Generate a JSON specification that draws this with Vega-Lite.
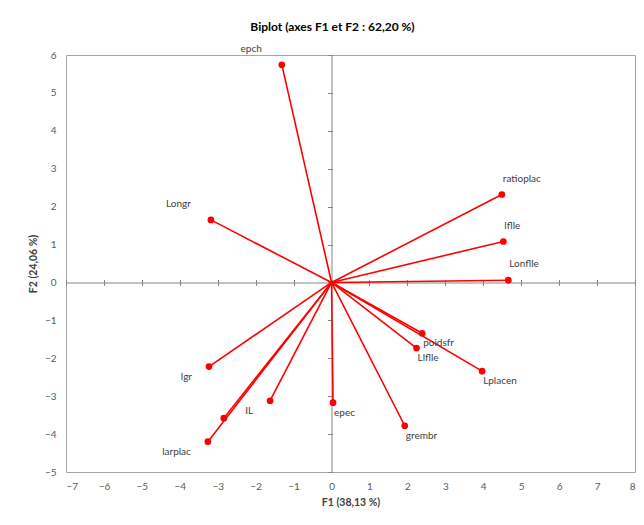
{
  "$schema": "https://vega.github.io/schema/vega-lite/v6.json",
  "autosize": "none",
  "width": 569,
  "height": 417,
  "padding": {"left": 66, "top": 55, "right": 9, "bottom": 53},
  "background": "white",
  "title": {"text": "Biplot (axes F1 et F2 : 62,20 %)", "fontSize": 12, "font": "Lato", "fontWeight": "bold", "color": "#000000", "offset": 10, "dx": -18},
  "config": {
    "font": "Lato",
    "view": {"stroke": "#A6A6A6", "strokeWidth": 1},
    "axis": {"grid": false, "labelFont": "Lato", "titleFont": "Lato"}
  },
  "data": {"values": [
    {"label": "epch", "x": -1.31, "y": 5.74},
    {"label": "Longr", "x": -3.18, "y": 1.65},
    {"label": "ratioplac", "x": 4.49, "y": 2.32},
    {"label": "lflle", "x": 4.53, "y": 1.08},
    {"label": "Lonflle", "x": 4.66, "y": 0.06},
    {"label": "lgr", "x": -3.23, "y": -2.22},
    {"label": "IL", "x": -1.62, "y": -3.12},
    {"label": "", "x": -2.84, "y": -3.58},
    {"label": "larplac", "x": -3.26, "y": -4.2},
    {"label": "epec", "x": 0.04, "y": -3.17},
    {"label": "poidsfr", "x": 2.39, "y": -1.34},
    {"label": "Llflle", "x": 2.24, "y": -1.73},
    {"label": "Lplacen", "x": 3.97, "y": -2.34},
    {"label": "grembr", "x": 1.93, "y": -3.78}
  ]},
  "resolve": {"axis": {"x": "independent", "y": "independent"}},
  "layer": [
    {
      "mark": {"type": "rule", "color": "#FF0000", "strokeWidth": 1.6},
      "encoding": {
        "x": {"field": "x", "type": "quantitative", "scale": {"domain": [-7, 8], "nice": false, "zero": false},
          "axis": {"orient": "bottom", "values": [-7,-6,-5,-4,-3,-2,-1,0,1,2,3,4,5,6,7,8], "domain": false, "ticks": false, "labelPadding": 9, "labelFontSize": 10, "labelColor": "#595959", "title": "F1 (38,13 %)", "titleFontSize": 10.5, "titleFontWeight": "bold", "titleColor": "#404040", "titlePadding": 6}},
        "y": {"field": "y", "type": "quantitative", "scale": {"domain": [-5, 6], "nice": false, "zero": false},
          "axis": {"orient": "left", "values": [-5,-4,-3,-2,-1,0,1,2,3,4,5,6], "domain": false, "ticks": false, "labelPadding": 10, "labelFontSize": 10, "labelColor": "#595959", "title": "F2 (24,06 %)", "titleFontSize": 10.5, "titleFontWeight": "bold", "titleColor": "#404040", "titlePadding": 6}},
        "x2": {"datum": 0},
        "y2": {"datum": 0}
      }
    },
    {
      "mark": {"type": "circle", "color": "#FF0000", "opacity": 1, "size": 45},
      "encoding": {
        "x": {"field": "x", "type": "quantitative",
          "axis": {"orient": "bottom", "offset": -189.5, "values": [-7,-6,-5,-4,-3,-2,-1,0,1,2,3,4,5,6,7,8], "labels": false, "title": null, "domain": true, "domainColor": "#868686", "ticks": true, "tickSize": 3, "tickColor": "#868686"}},
        "y": {"field": "y", "type": "quantitative",
          "axis": {"orient": "left", "offset": -265.5, "values": [-5,-4,-3,-2,-1,0,1,2,3,4,5,6], "labels": false, "title": null, "domain": true, "domainColor": "#868686", "ticks": true, "tickSize": 4, "tickColor": "#868686"}}
      }
    },
    {
      "transform": [{"filter": "datum.x >= 0 && datum.y >= 0"}],
      "mark": {"type": "text", "align": "left", "baseline": "middle", "dx": 1, "dy": -16, "fontSize": 10, "color": "#404040"},
      "encoding": {
        "x": {"field": "x", "type": "quantitative",
          "axis": {"orient": "top", "offset": -227.5, "values": [-7,-6,-5,-4,-3,-2,-1,0,1,2,3,4,5,6,7,8], "labels": false, "title": null, "domain": false, "ticks": true, "tickSize": 3, "tickColor": "#868686"}},
        "y": {"field": "y", "type": "quantitative",
          "axis": {"orient": "right", "offset": -303.5, "values": [-5,-4,-3,-2,-1,0,1,2,3,4,5,6], "labels": false, "title": null, "domain": false, "ticks": true, "tickSize": 1, "tickColor": "#868686"}},
        "text": {"field": "label"}
      }
    },
    {
      "transform": [{"filter": "datum.x >= 0 && datum.y < 0"}],
      "mark": {"type": "text", "align": "left", "baseline": "middle", "dx": 1, "dy": 10, "fontSize": 10, "color": "#404040"},
      "encoding": {
        "x": {"field": "x", "type": "quantitative", "axis": null},
        "y": {"field": "y", "type": "quantitative", "axis": null},
        "text": {"field": "label"}
      }
    },
    {
      "transform": [{"filter": "datum.x < 0 && datum.y >= 0"}],
      "mark": {"type": "text", "align": "right", "baseline": "middle", "dx": -20, "dy": -16, "fontSize": 10, "color": "#404040"},
      "encoding": {
        "x": {"field": "x", "type": "quantitative", "axis": null},
        "y": {"field": "y", "type": "quantitative", "axis": null},
        "text": {"field": "label"}
      }
    },
    {
      "transform": [{"filter": "datum.x < 0 && datum.y < 0"}],
      "mark": {"type": "text", "align": "right", "baseline": "middle", "dx": -17, "dy": 10, "fontSize": 10, "color": "#404040"},
      "encoding": {
        "x": {"field": "x", "type": "quantitative", "axis": null},
        "y": {"field": "y", "type": "quantitative", "axis": null},
        "text": {"field": "label"}
      }
    }
  ]
}
